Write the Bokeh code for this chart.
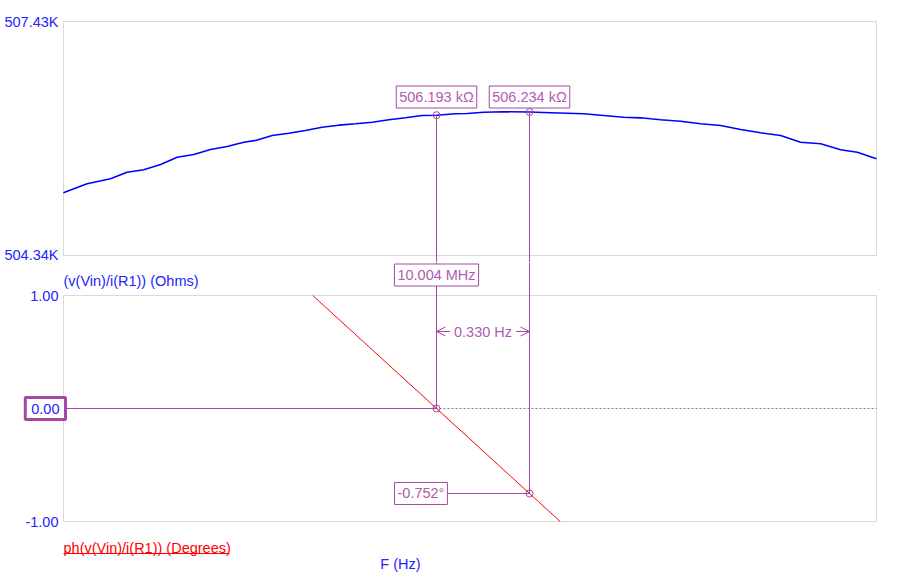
from bokeh.plotting import figure
from bokeh.layouts import column
from bokeh.models import (Range1d, FixedTicker, Label, Arrow, OpenHead, BoxAnnotation,
                          PrintfTickFormatter)
from bokeh.embed import file_html
from bokeh.resources import INLINE

# ---------------- data ----------------
BASE_HZ = 10004000.0
freq_offset_hz = [-1.324, -1.240, -1.157, -1.098, -1.039, -0.979, -0.920, -0.861, -0.802, -0.743,
                  -0.684, -0.639, -0.583, -0.524, -0.465, -0.406, -0.347, -0.287, -0.228, -0.169,
                  -0.110, -0.051, 0.000, 0.067, 0.109, 0.168, 0.238, 0.330, 0.405, 0.522,
                  0.593, 0.664, 0.724, 0.759, 0.795, 0.866, 0.937, 1.008, 1.079, 1.150,
                  1.221, 1.292, 1.363, 1.434, 1.493, 1.561]
impedance_kohm = [505.168, 505.287, 505.353, 505.440, 505.472, 505.542, 505.638, 505.674, 505.740, 505.779,
                  505.836, 505.861, 505.925, 505.955, 505.991, 506.034, 506.061, 506.079, 506.100, 506.132,
                  506.158, 506.189, 506.193, 506.211, 506.215, 506.232, 506.238, 506.234, 506.226, 506.211,
                  506.189, 506.166, 506.158, 506.145, 506.132, 506.113, 506.079, 506.057, 506.004, 505.960,
                  505.925, 505.836, 505.815, 505.736, 505.704, 505.617]
phase_offset_hz = [-0.439, 0.000, 0.330, 0.439]
phase_deg = [1.000, 0.000, -0.752, -1.000]

x_limits_offset = [-1.3236, 1.5613]
ohm_limits = [504.34, 507.43]
deg_limits = [-1.00, 1.00]

cursor_offset_hz = [0.000, 0.330]
cursor_kohm = [506.193, 506.234]
cursor_deg = [0.000, -0.752]
cursor_kohm_text = ["506.193 kΩ", "506.234 kΩ"]
cursor_freq_text = "10.004 MHz"
delta_text = "0.330 Hz"
phase_text = "-0.752°"
zero_text = "0.00"
ohm_title = "(v(Vin)/i(R1)) (Ohms)"
deg_title = "ph(v(Vin)/i(R1)) (Degrees)"
x_title = "F (Hz)"

# ---------------- styling ----------------
FONT = "Liberation Sans"
FS = "14.5px"
BLUE = "#0000ff"
TXT_BLUE = "#2424ff"
PURPLE = "#a349a4"
PTXT = "#b05cb0"
RED = "#ff0000"
GRAY = "#808080"

freq = [BASE_HZ + o for o in freq_offset_hz]
pfreq = [BASE_HZ + o for o in phase_offset_hz]
c1 = BASE_HZ + cursor_offset_hz[0]
c2 = BASE_HZ + cursor_offset_hz[1]
x0 = BASE_HZ + x_limits_offset[0]
x1 = BASE_HZ + x_limits_offset[1]

# pixel geometry of the two plot boxes
BOX_L, BOX_R = 63, 876
TOP_T, TOP_B = 21, 255
BOT_T, BOT_B = 295, 521
SPLIT = 262
W, H = 912, 584

HZ_PER_PX = (x1 - x0) / (BOX_R - BOX_L)
OHM_PER_PX = (ohm_limits[1] - ohm_limits[0]) / (TOP_B - TOP_T)
DEG_PER_PX = (deg_limits[1] - deg_limits[0]) / (BOT_B - BOT_T)

x_range = Range1d(x0 - BOX_L * HZ_PER_PX, x1 + (W - BOX_R) * HZ_PER_PX)
ohm_range = Range1d(ohm_limits[0] - (SPLIT - TOP_B) * OHM_PER_PX,
                    ohm_limits[1] + TOP_T * OHM_PER_PX)
deg_range = Range1d(deg_limits[0] - (H - BOT_B) * DEG_PER_PX,
                    deg_limits[1] + (BOT_T - SPLIT) * DEG_PER_PX)


def style(p, fmt, ticks):
    p.grid.visible = False
    p.outline_line_color = None
    ax = p.yaxis[0]
    ax.fixed_location = x0
    ax.ticker = FixedTicker(ticks=ticks)
    ax.formatter = PrintfTickFormatter(format=fmt)
    ax.axis_line_color = None
    ax.major_tick_line_color = None
    ax.minor_tick_line_color = None
    ax.major_tick_out = 0
    ax.major_tick_in = 0
    ax.major_label_standoff = 5
    ax.major_label_text_font = FONT
    ax.major_label_text_font_size = FS
    ax.major_label_text_color = TXT_BLUE
    p.background_fill_color = "white"
    p.border_fill_color = "white"


def box_label(x, y, text, align="center", x_offset=0, y_offset=0, color=PTXT,
              border=PURPLE, bw=1, pad=3, bg="white"):
    return Label(x=x, y=y, text=text, text_align=align, text_baseline="middle",
                 x_offset=x_offset, y_offset=y_offset, text_font=FONT, text_font_size=FS,
                 text_color=color, background_fill_color=bg, border_line_color=border,
                 border_line_width=bw, padding=pad)


# ---------------- top: impedance ----------------
p1 = figure(width=W, height=SPLIT, x_range=x_range, y_range=ohm_range,
            x_axis_location=None, y_axis_location="left", output_backend="svg",
            toolbar_location=None, min_border=0)
style(p1, "%.2fK", ohm_limits)
p1.add_layout(BoxAnnotation(left=x0, right=x1, bottom=ohm_limits[0], top=ohm_limits[1],
                            fill_color=None, line_color=GRAY, line_width=1, level="underlay"))
p1.line(freq, impedance_kohm, line_color=BLUE, line_width=1.6)
p1.segment(x0=[c1, c2], y0=cursor_kohm, x1=[c1, c2], y1=[ohm_range.start] * 2,
           line_color=PURPLE, line_width=1)
p1.scatter([c1, c2], cursor_kohm, marker="circle", size=7, fill_color=None,
           line_color=PURPLE, line_width=1)
for cx, t in zip([c1, c2], cursor_kohm_text):
    p1.add_layout(box_label(cx, ohm_limits[1], t, y_offset=-75.5))

# ---------------- bottom: phase ----------------
p2 = figure(width=W, height=H - SPLIT, x_range=x_range, y_range=deg_range,
            x_axis_location=None, y_axis_location="left", output_backend="svg",
            toolbar_location=None, min_border=0)
style(p2, "%.2f", deg_limits)
p2.add_layout(BoxAnnotation(left=x0, right=x1, bottom=deg_limits[0], top=deg_limits[1],
                            fill_color=None, line_color=GRAY, line_width=1, level="underlay"))

p2.line([x0, x1], [0, 0], line_color=GRAY, line_width=1, line_dash="2 2")
p2.segment(x0=[x0], y0=[cursor_deg[0]], x1=[c1], y1=[cursor_deg[0]], line_color=PURPLE, line_width=1)
p2.segment(x0=[c1], y0=[cursor_deg[1]], x1=[c2], y1=[cursor_deg[1]], line_color=PURPLE, line_width=1)
p2.line(pfreq, phase_deg, line_color=RED, line_width=1)
p2.segment(x0=[c1, c2], y0=[deg_range.end] * 2, x1=[c1, c2], y1=cursor_deg,
           line_color=PURPLE, line_width=1)
p2.scatter([c1, c2], cursor_deg, marker="circle", size=7, fill_color=None,
           line_color=PURPLE, line_width=1)

# delta arrow
y_delta = deg_limits[1] - 36 * DEG_PER_PX
p2.add_layout(Arrow(x_start=c1, y_start=y_delta, x_end=c2, y_end=y_delta,
                    start=OpenHead(size=9, line_color=PURPLE, line_width=1),
                    end=OpenHead(size=9, line_color=PURPLE, line_width=1),
                    line_color=PURPLE, line_width=1))
p2.add_layout(box_label((c1 + c2) / 2, y_delta, delta_text, border=None, pad=4))

# cursor texts
p2.add_layout(box_label(c1, deg_limits[1], cursor_freq_text, y_offset=20.5))
p2.add_layout(box_label(c1, cursor_deg[1], phase_text, align="left", x_offset=-42))
p2.add_layout(box_label(x0, cursor_deg[0], zero_text, align="right", x_offset=2,
                        color=TXT_BLUE, border=PURPLE, bw=3, pad=6))

# titles
p2.add_layout(Label(x=x0, y=deg_limits[1], text=ohm_title, text_align="left", text_baseline="middle",
                    y_offset=15, text_font=FONT, text_font_size=FS, text_color=TXT_BLUE))
p2.add_layout(Label(x=x0, y=deg_limits[0], text=deg_title, text_align="left", text_baseline="middle",
                    y_offset=-26, text_font=FONT, text_font_size=FS, text_color=RED))
y_ul = deg_limits[0] - 32 * DEG_PER_PX
p2.segment(x0=[x0], y0=[y_ul], x1=[x0 + 166 * HZ_PER_PX], y1=[y_ul], line_color=RED, line_width=1)
p2.add_layout(Label(x=x0 + 337 * HZ_PER_PX, y=deg_limits[0], text=x_title, text_align="center",
                    text_baseline="middle", y_offset=-42, text_font=FONT, text_font_size=FS,
                    text_color=TXT_BLUE))

layout = column(p1, p2, spacing=0)
open("out.html", "w").write(file_html(layout, INLINE))
